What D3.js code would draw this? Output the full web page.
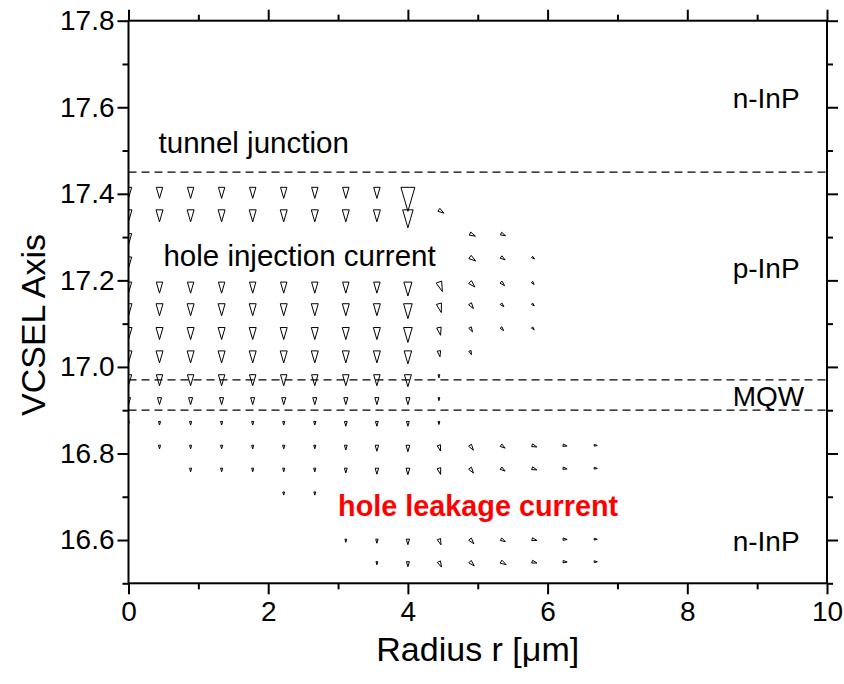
<!DOCTYPE html>
<html>
<head>
<meta charset="utf-8">
<script src="https://cdn.jsdelivr.net/npm/d3@7"></script>
<style>
  body { margin: 0; background: #fff; }
  svg text { font-family: "Liberation Sans", Arial, Helvetica, sans-serif; fill: #000; }
</style>
</head>
<body>
<svg id="chart" width="844" height="684"></svg>
<script>
// Mesh columns along the radius (µm)
const radius = [0, 0.444, 0.889, 1.333, 1.778, 2.222, 2.667, 3.111, 3.556, 4.0,
                4.444, 4.889, 5.333, 5.778, 6.222, 6.667];

// Mesh rows along the VCSEL axis
const axisPos = [17.415, 17.363, 17.308, 17.254, 17.196, 17.146, 17.091, 17.037,
                 16.982, 16.929, 16.874, 16.819, 16.766, 16.711, 16.602, 16.550];

// Relative hole current density per mesh node (null = no vector shown)
const _ = null;
const magnitude = [
  [0.46,0.46,0.46,0.46,0.46,0.46,0.46,0.46,0.46,1.00,_,_,_,_,_,_],
  [0.50,0.50,0.50,0.50,0.50,0.50,0.50,0.50,0.50,0.75,0.25,_,_,_,_,_],
  [0.46,_,_,_,_,_,_,_,_,_,_,0.25,0.21,_,_,_],
  [0.46,_,_,_,_,_,_,_,_,_,_,0.29,0.21,0.13,_,_],
  [0.46,0.46,0.46,0.46,0.46,0.46,0.46,0.46,0.46,0.58,0.42,0.29,0.21,0.13,_,_],
  [0.50,0.50,0.50,0.50,0.50,0.50,0.50,0.50,0.50,0.62,0.38,0.25,0.17,0.13,_,_],
  [0.50,0.50,0.50,0.50,0.50,0.50,0.50,0.50,0.50,0.62,0.33,0.21,0.17,0.13,_,_],
  [0.50,0.50,0.50,0.50,0.50,0.50,0.50,0.50,0.50,0.54,0.25,0.17,_,_,_,_],
  [0.46,0.46,0.46,0.46,0.46,0.46,0.46,0.46,0.46,0.50,0.13,_,_,_,_,_],
  [0.29,0.29,0.29,0.29,0.29,0.29,0.29,0.29,0.29,0.29,0.13,_,_,_,_,_],
  [0.13,0.15,0.15,0.15,0.15,0.15,0.15,0.20,0.20,0.20,0.13,_,_,_,_,_],
  [_,0.15,0.15,0.15,0.15,0.15,0.15,0.20,0.25,0.27,0.25,0.25,0.21,0.21,0.17,0.13],
  [_,_,0.15,0.15,0.15,0.15,0.15,0.20,0.25,0.27,0.27,0.25,0.21,0.21,0.17,0.13],
  [_,_,_,_,_,0.13,0.13,_,_,_,_,_,_,_,_,_],
  [_,_,_,_,_,_,_,0.13,0.17,0.23,0.25,0.25,0.21,0.21,0.17,0.13],
  [_,_,_,_,_,_,_,_,0.13,0.21,0.25,0.25,0.25,0.21,0.17,0.13]
];

// Flow direction, degrees turned from -z towards +r
const direction = [
  [0,0,0,0,0,0,0,0,0,0,0,0,0,0,0,0],
  [0,0,0,0,0,0,0,0,0,0,56,0,0,0,0,0],
  [0,0,0,0,0,0,0,0,0,0,0,65,65,0,0,0],
  [0,0,0,0,0,0,0,0,0,0,0,55,55,50,0,0],
  [0,0,0,0,0,0,0,0,0,0,20,45,45,40,0,0],
  [0,0,0,0,0,0,0,0,0,0,15,35,45,45,0,0],
  [0,0,0,0,0,0,0,0,0,0,12,30,40,45,0,0],
  [0,0,0,0,0,0,0,0,0,0,10,20,0,0,0,0],
  [0,0,0,0,0,0,0,0,0,0,0,0,0,0,0,0],
  [0,0,0,0,0,0,0,0,0,0,0,0,0,0,0,0],
  [0,0,0,0,0,0,0,0,0,0,0,0,0,0,0,0],
  [0,0,0,0,0,0,0,0,0,0,15,35,55,70,80,85],
  [0,0,0,0,0,0,0,0,0,0,15,35,55,70,80,85],
  [0,0,0,0,0,0,0,0,0,0,0,0,0,0,0,0],
  [0,0,0,0,0,0,0,0,0,0,20,40,60,75,85,88],
  [0,0,0,0,0,0,0,0,0,0,25,45,60,75,85,88]
];

// Layer interfaces: tunnel junction, top and bottom of the MQW
const interfaces = [17.45, 16.97, 16.90];

const xMajor = [0, 2, 4, 6, 8, 10];
const xMinor = [1, 3, 5, 7, 9];
const yMajor = [16.6, 16.8, 17.0, 17.2, 17.4, 17.6, 17.8];
const yMinor = [16.5, 16.7, 16.9, 17.1, 17.3, 17.5, 17.7];

const layerNames = ["n-InP", "p-InP", "MQW", "n-InP"];
const layerNameZ = [17.621, 17.229, 16.933, 16.598];

const notes = ["tunnel junction", "hole injection current", "hole leakage current"];
const notePos = [[0.43, 17.494], [0.5, 17.233], [3.0, 16.656]];

// ---------------------------------------------------------------
const svg = d3.select("#chart");
const plotLeft = 128.5, plotRight = 827, plotTop = 20.7, plotBottom = 583.3;

const x = d3.scaleLinear().domain([0, 10]).range([plotLeft, plotRight]);
const y = d3.scaleLinear().domain([16.5, 17.8]).range([plotBottom, plotTop]);
const len = d3.scaleLinear().domain([0, 1]).range([0, 24]);

svg.append("defs").append("clipPath").attr("id", "plot-clip")
  .append("rect").attr("x", plotLeft).attr("y", plotTop)
  .attr("width", plotRight - plotLeft).attr("height", plotBottom - plotTop);

// Vector field: each vector starts at its mesh node
const vectors = [];
magnitude.forEach((row, i) => row.forEach((m, j) => {
  if (m !== null) vectors.push({ r: radius[j], z: axisPos[i], m, a: direction[i][j] });
}));

function arrowPath(d) {
  const x0 = x(d.r), y0 = y(d.z);
  const L = len(d.m), t = d.a * Math.PI / 180;
  const ux = Math.sin(t), uy = Math.cos(t);   // screen y grows downward
  const px = Math.cos(t), py = -Math.sin(t);
  const hw = 0.29 * L;
  const p = d3.path();
  p.moveTo(x0 + px * hw, y0 + py * hw);
  p.lineTo(x0 + ux * L, y0 + uy * L);
  p.lineTo(x0 - px * hw, y0 - py * hw);
  p.closePath();
  return p.toString();
}

svg.append("g").attr("clip-path", "url(#plot-clip)")
  .selectAll("path").data(vectors).join("path")
  .attr("d", arrowPath)
  .attr("fill", "none")
  .attr("stroke", "#000")
  .attr("stroke-width", 1)
  .attr("stroke-linejoin", "miter");

// Interfaces
svg.append("g").selectAll("line").data(interfaces).join("line")
  .attr("x1", plotLeft).attr("x2", plotRight)
  .attr("y1", d => y(d)).attr("y2", d => y(d))
  .attr("stroke", "#000").attr("stroke-width", 1.3)
  .attr("stroke-dasharray", "8,5");

// Frame and ticks on all four sides
const tickStyle = g => {
  g.select(".domain").remove();
  g.selectAll(".tick line").attr("stroke", "#000").attr("stroke-width", 2);
};
function addAxis(axisFn, scale, values, size, labelled, transform, fontSize, pad) {
  const a = axisFn(scale).tickValues(values).tickSize(size).tickSizeOuter(0)
    .tickPadding(pad || 3);
  a.tickFormat(labelled ? d3.format("") : () => "");
  const g = svg.append("g").attr("transform", transform).call(a).call(tickStyle);
  g.selectAll("text").attr("font-size", fontSize || 28)
    .style("font-family", "'Liberation Sans', Arial, sans-serif").attr("fill", "#000");
  return g;
}
addAxis(d3.axisBottom, x, xMajor, 11, true, `translate(0,${plotBottom})`, 28, 7);
addAxis(d3.axisBottom, x, xMinor, 6, false, `translate(0,${plotBottom})`);
addAxis(d3.axisTop, x, xMajor, 11, false, `translate(0,${plotTop})`);
addAxis(d3.axisTop, x, xMinor, 6, false, `translate(0,${plotTop})`);
const yl = addAxis(d3.axisLeft, y, yMajor, 11, true, `translate(${plotLeft},0)`, 28, 3);
yl.selectAll("text").text(d => d3.format(".1f")(d));
addAxis(d3.axisLeft, y, yMinor, 6, false, `translate(${plotLeft},0)`);
addAxis(d3.axisRight, y, yMajor, 11, false, `translate(${plotRight},0)`);
addAxis(d3.axisRight, y, yMinor, 6, false, `translate(${plotRight},0)`);

svg.append("rect")
  .attr("x", plotLeft).attr("y", plotTop)
  .attr("width", plotRight - plotLeft).attr("height", plotBottom - plotTop)
  .attr("fill", "none").attr("stroke", "#000").attr("stroke-width", 2);

// Axis titles
svg.append("text")
  .attr("x", (plotLeft + plotRight) / 2).attr("y", 661)
  .attr("text-anchor", "middle").attr("font-size", 34)
  .text("Radius r [μm]");
svg.append("text")
  .attr("transform", `translate(45,325) rotate(-90)`)
  .attr("text-anchor", "middle").attr("font-size", 34)
  .text("VCSEL Axis");

// Layer names on the right
svg.append("g").selectAll("text").data(layerNames).join("text")
  .attr("x", x(8.65)).attr("y", (d, i) => y(layerNameZ[i]) + 10)
  .attr("font-size", 28)
  .text(d => d);

// Annotations
svg.append("g").selectAll("text").data(notes).join("text")
  .attr("x", (d, i) => x(notePos[i][0]))
  .attr("y", (d, i) => y(notePos[i][1]))
  .attr("font-size", (d, i) => i === 2 ? 28.8 : 29.5)
  .attr("font-weight", (d, i) => i === 2 ? "bold" : "normal")
  .style("fill", (d, i) => i === 2 ? "#ff0000" : "#000")
  .text(d => d);
</script>
</body>
</html>
